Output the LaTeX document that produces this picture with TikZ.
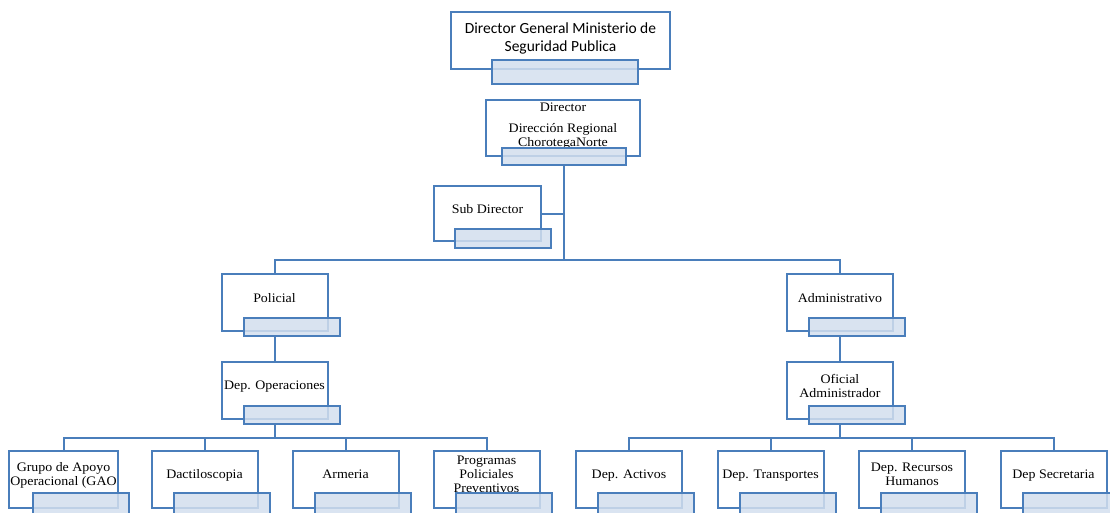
\documentclass[tikz,border=0pt]{standalone}
\usepackage{fontspec}
\setmainfont{Liberation Serif}[FakeStretch=1.07]
\newfontfamily\calibrifont{Carlito}
\definecolor{orgline}{RGB}{74,126,187}
\definecolor{orgfill}{RGB}{211,223,238}
\tikzset{
	unit/.style={draw=orgline, line width=2pt, fill=white, minimum width=106pt, minimum height=57pt, inner sep=1pt, align=center, text depth=10pt, font=\fontsize{13}{14}\selectfont},
	tag/.style={draw=orgline, line width=2pt, fill=orgfill, fill opacity=0.85, minimum width=96pt, minimum height=18pt, inner sep=0pt},
	link/.style={draw=orgline, line width=2pt}
}
\begin{document}
\begin{tikzpicture}[x=1pt,y=-1pt]
	\useasboundingbox (0,0) rectangle (1110,512);
	% top of the chart
	\node (dg) at (560.5,40.5)	[unit, minimum width=219pt, text depth=6pt, font=\calibrifont\fontsize{15.5}{18}\selectfont]	{Director General Ministerio de\\Seguridad Publica};
	\node (dgT) at (565,72)	[tag, minimum width=146pt, minimum height=24pt]	{};
	\node (dr) at (563,128)	[unit, minimum width=154pt, minimum height=56pt, text depth=6pt]	{Director\\[7pt]Dirección Regional\\ChorotegaNorte};
	\node (drT) at (564,156.5)	[tag, minimum width=124pt, minimum height=17pt]	{};
	\node (sub) at (487.5,213.5)	[unit, minimum width=107pt, minimum height=55pt]	{Sub Director};
	\node (subT) at (503,238.5)	[tag, minimum height=19pt]	{};
	\coordinate (hub) at (564,261);
	% two branches
	\node (pol) at (274.5,302.5)	[unit]	{Policial};
	\node (polT) at (291.5,327)	[tag]	{};
	\node (ops) at (274.5,390.5)	[unit]	{Dep. Operaciones};
	\node (opsT) at (291.5,415)	[tag]	{};
	\node (adm) at (840,302.5)	[unit]	{Administrativo};
	\node (admT) at (857,327)	[tag]	{};
	\node (ofi) at (840,390.5)	[unit]	{Oficial\\Administrador};
	\node (ofiT) at (857,415)	[tag]	{};
	% departments
	\node (g1) at (63.5,479)	[unit]	{Grupo de Apoyo\\Operacional (GAO};
	\node (g1T) at (80.5,504)	[tag, minimum height=22pt]	{};
	\node (g2) at (204.5,479)	[unit]	{Dactiloscopia};
	\node (g2T) at (221.5,504)	[tag, minimum height=22pt]	{};
	\node (g3) at (345.5,479)	[unit]	{Armeria};
	\node (g3T) at (362.5,504)	[tag, minimum height=22pt]	{};
	\node (g4) at (486.5,479)	[unit]	{Programas\\Policiales\\Preventivos};
	\node (g4T) at (503.5,504)	[tag, minimum height=22pt]	{};
	\node (d1) at (629,479)	[unit]	{Dep. Activos};
	\node (d1T) at (646,504)	[tag, minimum height=22pt]	{};
	\node (d2) at (770.5,479)	[unit]	{Dep. Transportes};
	\node (d2T) at (787.5,504)	[tag, minimum height=22pt]	{};
	\node (d3) at (912,479)	[unit]	{Dep. Recursos\\Humanos};
	\node (d3T) at (929,504)	[tag, minimum height=22pt]	{};
	\node (d4) at (1053.5,479)	[unit]	{Dep Secretaria};
	\node (d4T) at (1070.5,504)	[tag, minimum height=22pt]	{};
	% connectors
	\draw[link] (drT.south) -- (hub);
	\draw[link] (sub.east) -- (sub.east -| hub);
	\draw[link] (pol.north) -- ++(0,-13) -| (adm.north);
	\draw[link] (pol |- polT.south) -- (ops.north);
	\draw[link] (adm |- admT.south) -- (ofi.north);
	\draw[link] (ops |- opsT.south) -- ++(0,14) coordinate (busL);
	\draw[link] (ofi |- ofiT.south) -- ++(0,14) coordinate (busR);
	\draw[link] (g1.north) -- ++(0,-12) -| (g4.north);
	\draw[link] (g2.north) -- (g2.north |- busL);
	\draw[link] (g3.north) -- (g3.north |- busL);
	\draw[link] (d1.north) -- ++(0,-12) -| (d4.north);
	\draw[link] (d2.north) -- (d2.north |- busR);
	\draw[link] (d3.north) -- (d3.north |- busR);
\end{tikzpicture}
\end{document}
